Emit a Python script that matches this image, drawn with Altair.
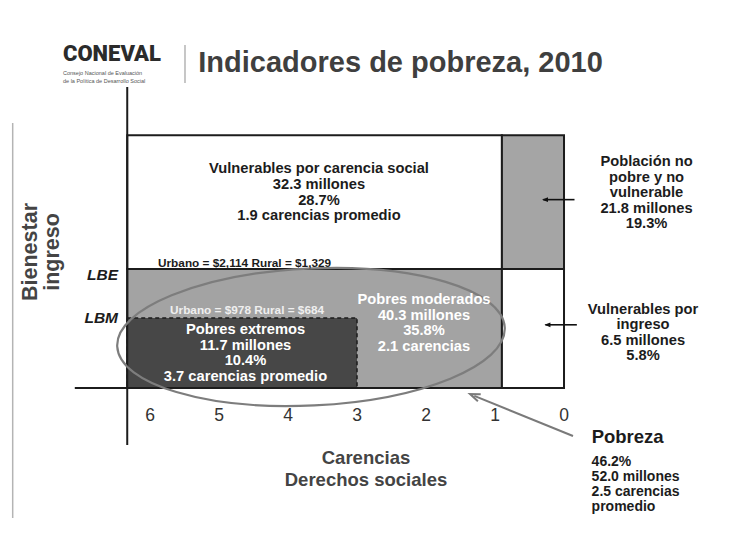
import altair as alt
import pandas as pd

# ---------------- data ----------------
grupo_lineas = ["Vulnerables por carencia social",
                "Población no\npobre y no\nvulnerable",
                "Pobres moderados",
                "Vulnerables por\ningreso",
                "Pobres extremos"]
millones = [32.3, 21.8, 40.3, 6.5, 11.7]
porcentaje = [28.7, 19.3, 35.8, 5.8, 10.4]
carencias_prom = [1.9, None, 2.1, None, 3.7]
carencias_sufijo = [" carencias promedio", "", " carencias", "", " carencias promedio"]

pobreza_pct = 46.2
pobreza_millones = 52.0
pobreza_carencias = 2.5

carencias = [6, 5, 4, 3, 2, 1, 0]
lbe_urbano, lbe_rural = 2114, 1329
lbm_urbano, lbm_rural = 978, 684

# ---------------- diagram layout (carencias on x, ingreso index on y) ----------------
LBM, LBE, TOP = 1.0, 1.7, 3.61
X_LEFT, X_EXT, X_BREAK, X_RIGHT = 6.33, 3.0, 0.9, 0.0

rect_x1 = [X_LEFT, X_BREAK, X_LEFT, X_BREAK]
rect_x2 = [X_BREAK, X_RIGHT, X_BREAK, X_RIGHT]
rect_y1 = [LBE, LBE, 0.0, 0.0]
rect_y2 = [TOP, TOP, LBE, LBE]
rect_fill = ["#ffffff", "#a5a5a5", "#a3a3a3", "#ffffff"]

# position of the first line of each group label
lab_x = [3.551, -1.196, 2.029, -1.145, 4.616]
lab_y = [3.129, 3.229, 1.257, 1.119, 0.829]
lab_color = ["#1c1c1c", "#1c1c1c", "#ffffff", "#1c1c1c", "#ffffff"]
lab_lh = [15.8, 15.6, 15.6, 15.6, 15.6]

FONT = "Liberation Sans"
X = alt.Scale(domain=[-2.478, 8.058], reverse=True, nice=False, zero=False)
Y = alt.Scale(domain=[-1.857, 5.4286], nice=False, zero=False)


def enc(ch):
    return ch.encode(x=alt.X("x:Q", scale=X, axis=None), y=alt.Y("y:Q", scale=Y, axis=None))


def texto(df, size, color="#1c1c1c", weight="bold", align="center", lh=None,
          angle=None, style=None, font=FONT, baseline="middle"):
    kw = dict(fontSize=size, color=color, fontWeight=weight, align=align,
              baseline=baseline, font=font, lineBreak="\n")
    if lh:
        kw["lineHeight"] = lh
    if angle is not None:
        kw["angle"] = angle
    if style:
        kw["fontStyle"] = style
    return enc(alt.Chart(df).mark_text(**kw)).encode(text="t:N")


def segs(df, color, width, dash=None):
    kw = dict(color=color, strokeWidth=width)
    if dash:
        kw["strokeDash"] = dash
    return alt.Chart(df).mark_rule(**kw).encode(
        x=alt.X("x:Q", scale=X, axis=None), x2="x2:Q",
        y=alt.Y("y:Q", scale=Y, axis=None), y2="y2:Q")


# rectangles
rdf = pd.DataFrame({"x": rect_x1, "x2": rect_x2, "y": rect_y1, "y2": rect_y2, "f": rect_fill})
rects = alt.Chart(rdf).mark_rect(stroke="#1c1c1c", strokeWidth=2).encode(
    x=alt.X("x:Q", scale=X, axis=None), x2="x2:Q",
    y=alt.Y("y:Q", scale=Y, axis=None), y2="y2:Q",
    fill=alt.Fill("f:N", scale=None))

edf = pd.DataFrame({"x": [X_LEFT], "x2": [X_EXT], "y": [0.0], "y2": [LBM]})
extremos = alt.Chart(edf).mark_rect(fill="#474747", stroke="#1c1c1c", strokeWidth=1.5,
                                    strokeDash=[4, 3]).encode(
    x=alt.X("x:Q", scale=X, axis=None), x2="x2:Q",
    y=alt.Y("y:Q", scale=Y, axis=None), y2="y2:Q")

# axes lines
axes = segs(pd.DataFrame({"x": [X_LEFT, 7.09], "x2": [X_LEFT, X_RIGHT],
                          "y": [4.30, 0.0], "y2": [-0.814, 0.0]}), "#1c1c1c", 2)
grey_lines = segs(pd.DataFrame({"x": [7.99, 5.493], "x2": [7.99, 5.493],
                                "y": [3.786, 4.90], "y2": [-1.857, 4.357]}), "#b4b4b4", 1.5)

# ellipse (pobreza)
k, c = 0.353, 0.552
kc = round(k * c, 3)
ell_path = (f"M -1 0 C -1 {-kc} {-c} {-k} 0 {-k} C {c} {-k} 1 {-kc} 1 0 "
            f"C 1 {kc} {c} {k} 0 {k} C {-c} {k} -1 {kc} -1 0 Z")
ellipse = enc(alt.Chart(pd.DataFrame({"x": [3.667], "y": [0.729]})).mark_point(
    shape=ell_path, size=(2 * 194) ** 2, filled=False, color="#7d7d7d",
    strokeWidth=2.2, opacity=1, angle=357.2))

# arrows
arrow_df = pd.DataFrame({"x": [-0.152, -0.186], "x2": [0.30, 0.27],
                         "y": [2.691, 0.903], "y2": [2.691, 0.903]})
arrow_shaft = segs(arrow_df, "#111111", 1.6)
arrow_head = enc(alt.Chart(pd.DataFrame({"x": [0.319, 0.284], "y": [2.691, 0.903]})).mark_point(
    shape="M 0 0 L 2 -0.8 L 2 0.8 Z", size=36, filled=True, color="#111111", opacity=1))

big_shaft = segs(pd.DataFrame({"x": [-0.130], "x2": [1.30], "y": [-0.686], "y2": [-0.112]}),
                 "#7a7a7a", 2)
big_head = enc(alt.Chart(pd.DataFrame({"x": [1.362], "y": [-0.086]})).mark_point(
    shape="M 2 -0.75 L 0 0 L 2 0.75", size=100, filled=False, color="#7a7a7a",
    strokeWidth=2, opacity=1, angle=22.2))

# texts
labels = []
for i in range(5):
    t = f"{grupo_lineas[i]}\n{millones[i]} millones\n{porcentaje[i]}%"
    if carencias_prom[i] is not None:
        t += f"\n{carencias_prom[i]}{carencias_sufijo[i]}"
    labels.append(t)

group_layers = []
for i in range(5):
    group_layers.append(texto(pd.DataFrame({"x": [lab_x[i]], "y": [lab_y[i]], "t": [labels[i]]}),
                              14.7, color=lab_color[i], lh=lab_lh[i]))

lbe_txt = texto(pd.DataFrame({"x": [5.884], "y": [1.786],
                              "t": [f"Urbano = ${lbe_urbano:,} Rural = ${lbe_rural:,}"]}),
                11.8, align="left")
lbm_txt = texto(pd.DataFrame({"x": [5.71], "y": [1.114],
                              "t": [f"Urbano = ${lbm_urbano:,} Rural = ${lbm_rural:,}"]}),
                11.8, color="#efefef", align="left")
lines_txt = texto(pd.DataFrame({"x": [6.464, 6.464], "y": [1.619, 0.996], "t": ["LBE", "LBM"]}),
                  15.5, color="#1c1c1c", weight="bold", align="right", style="italic")

ticks = texto(pd.DataFrame({"x": carencias, "y": [-0.404] * len(carencias),
                            "t": [str(v) for v in carencias]}),
              17.5, color="#333333", weight="normal")

xtitle = texto(pd.DataFrame({"x": [2.87], "y": [-1.0], "t": ["Carencias\nDerechos sociales"]}),
               18.5, color="#444444", lh=22)
ytitle = texto(pd.DataFrame({"x": [7.73, 7.41], "y": [1.943, 1.943], "t": ["Bienestar", "ingreso"]}),
               21.5, color="#444444", angle=270)

pob_title = texto(pd.DataFrame({"x": [-0.401], "y": [-0.696], "t": ["Pobreza"]}),
                  18.5, align="left")
pob_stats = texto(pd.DataFrame({"x": [-0.40], "y": [-1.05],
                                "t": [f"{pobreza_pct}%\n{pobreza_millones} millones\n"
                                      f"{pobreza_carencias} carencias\npromedio"]}),
                  14, align="left", lh=15)

title = texto(pd.DataFrame({"x": [5.30], "y": [4.51], "t": ["Indicadores de pobreza, 2010"]}),
              29, color="#3f3f3f", align="left", baseline="alphabetic")
logo = texto(pd.DataFrame({"x": [7.261], "y": [4.771], "t": ["CONEVAL"]}),
             22, color="#2b2b2b", align="left", weight=900, font="Roboto")
logo_sub = texto(pd.DataFrame({"x": [7.261, 7.261], "y": [4.50, 4.386],
                               "t": ["Consejo Nacional de Evaluación",
                                     "de la Política de Desarrollo Social"]}),
                 5.5, color="#555555", align="left", weight="normal")

chart = alt.layer(
    grey_lines, rects, extremos, axes, ellipse, arrow_shaft, arrow_head, big_shaft, big_head,
    *group_layers, lbe_txt, lbm_txt, lines_txt, ticks, xtitle, ytitle, pob_title, pob_stats,
    title, logo, logo_sub
).properties(
    width=727, height=510, padding=0,
    autosize=alt.AutoSizeParams(type="none"),
    background="#ffffff"
).configure_view(stroke=None)

chart.save("out.html", embed_options={"renderer": "svg", "actions": False})
